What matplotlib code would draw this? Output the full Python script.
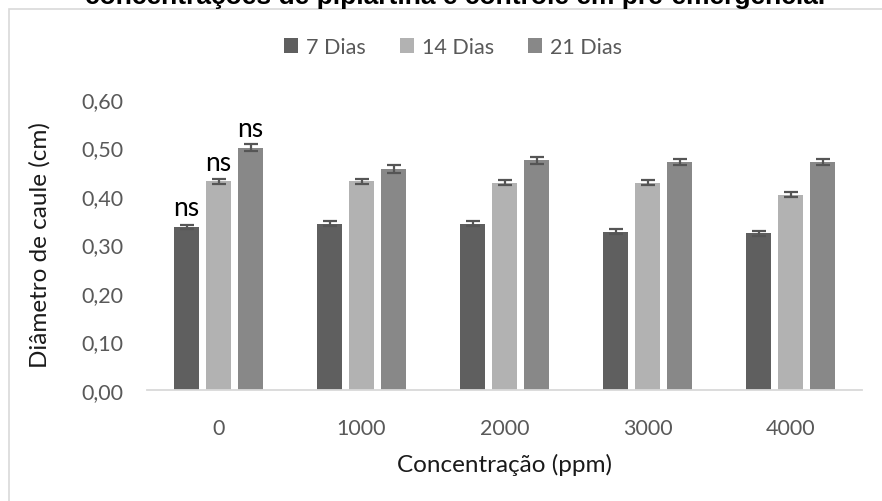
import numpy as np
import matplotlib
matplotlib.use("Agg")
import matplotlib.pyplot as plt
from matplotlib.patches import Rectangle

# stem diameter (cm) per concentration, at 7, 14 and 21 days
concentracoes = ["0", "1000", "2000", "3000", "4000"]
dias_7 = [0.336, 0.343, 0.343, 0.326, 0.323]
dias_14 = [0.430, 0.430, 0.427, 0.427, 0.403]
dias_21 = [0.500, 0.456, 0.474, 0.470, 0.470]
erro_7 = [0.005, 0.005, 0.005, 0.005, 0.005]
erro_14 = [0.005, 0.005, 0.005, 0.005, 0.005]
erro_21 = [0.007, 0.008, 0.007, 0.007, 0.007]
series = ["7 Dias", "14 Dias", "21 Dias"]
cores = ["#5f5f5f", "#b2b2b2", "#888888"]

plt.rcParams['font.family'] = ['Lato', 'DejaVu Sans']

fig = plt.figure(figsize=(8.82, 5.02), dpi=100)
ax = fig.add_axes([147 / 882, 1 - 391 / 502, 715 / 882, 291 / 502])

# chart frame (only top and left edges fall inside the image)
fig.patches.append(Rectangle((8.5 / 882, -0.1), 1.2, 1 - 9.5 / 502 + 0.1,
                             transform=fig.transFigure, fill=False,
                             edgecolor="#d9d9d9", linewidth=1.2))

fig.text(455 / 882, 1 - 4 / 502,
         "concentrações de piplartina e controle em pré-emergência.",
         ha="center", va="baseline", fontsize=19, fontweight="bold",
         family="Liberation Sans", color="black")

x = np.arange(len(concentracoes))
largura = 25 / 143
passo = 32 / 143
valores = [dias_7, dias_14, dias_21]
erros = [erro_7, erro_14, erro_21]
for i, (nome, v, e, c) in enumerate(zip(series, valores, erros, cores)):
    ax.bar(x + (i - 1) * passo, v, largura, color=c, label=nome, zorder=2,
           yerr=e, capsize=5,
           error_kw=dict(ecolor="#555555", elinewidth=1.6, capthick=1.6))
    # "ns" marks on the control group
    ax.text(x[0] + (i - 1) * passo, v[0] + 0.024, "ns",
            ha="center", va="baseline", fontsize=19, color="black")

ax.set_ylim(0, 0.6)
ax.set_xlim(-0.5, len(concentracoes) - 0.5)
ax.set_yticks(np.arange(0, 0.61, 0.1))
ax.set_yticklabels([f"{t:.2f}".replace(".", ",") for t in np.arange(0, 0.61, 0.1)])
ax.set_xticks(x)
ax.set_xticklabels(concentracoes)
ax.tick_params(axis="both", length=0, labelsize=15.5, colors="#595959")
ax.tick_params(axis="x", pad=20)
ax.tick_params(axis="y", pad=17)
for s in ["top", "right", "left"]:
    ax.spines[s].set_visible(False)
ax.spines["bottom"].set_color("#d9d9d9")
ax.spines["bottom"].set_linewidth(1.3)

ax.set_xlabel("Concentração (ppm)", fontsize=17.5, color="#1a1a1a")
ax.set_ylabel("Diâmetro de caule (cm)", fontsize=17.5, color="#1a1a1a")
ax.xaxis.set_label_coords(0.5, (391 - 465) / 291, transform=ax.transAxes)
ax.yaxis.set_label_coords((40 - 147) / 715, 0.5, transform=ax.transAxes)
ax.xaxis.label.set_va("center")
ax.yaxis.label.set_va("center")

fig.legend(loc="center", bbox_to_anchor=(453 / 882, 1 - 48 / 502), ncol=3,
           frameon=False, fontsize=15.5, labelcolor="#595959",
           handlelength=0.65, handleheight=0.65, handletextpad=0.35,
           columnspacing=1.6)

fig.savefig("out.png", dpi=100)
